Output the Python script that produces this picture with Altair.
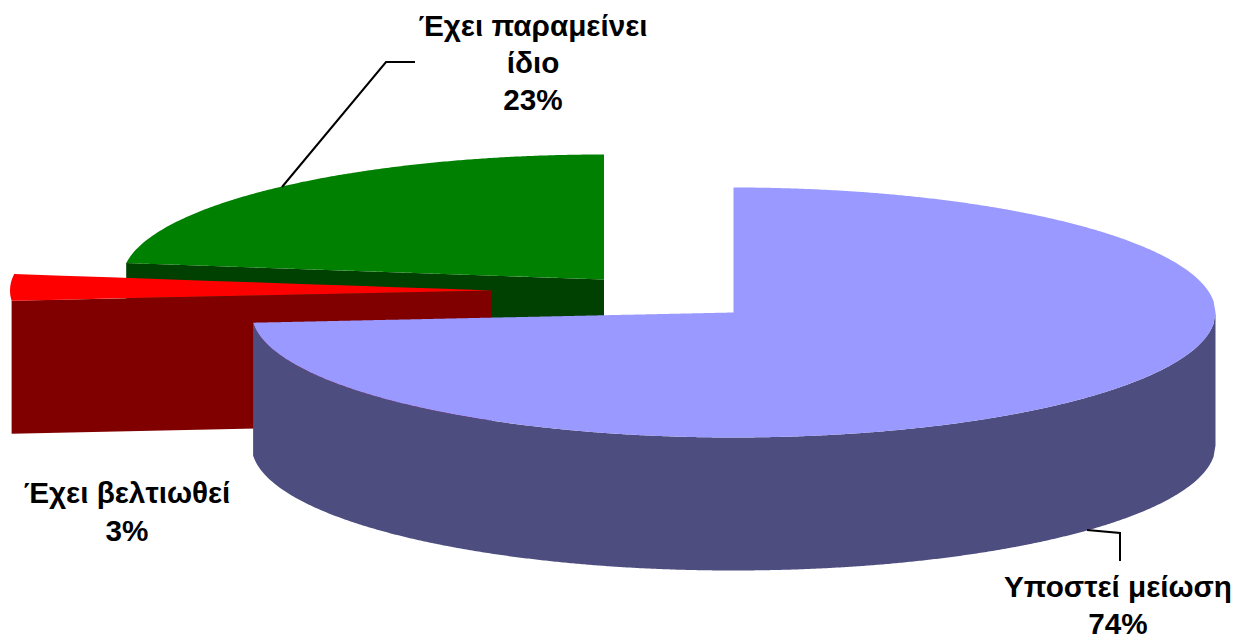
import math
import altair as alt
import pandas as pd

# Data
categories = ["Υποστεί μείωση", "Έχει βελτιωθεί", "Έχει παραμείνει ίδιο"]
shares = [73.7, 3.4, 22.9]
label_lines = [["Υποστεί μείωση", "74%"], ["Έχει βελτιωθεί", "3%"], ["Έχει παραμείνει", "ίδιο", "23%"]]

# Appearance / layout (picture units)
top_colors = ["#9999FF", "#FF0000", "#008000"]
side_colors = ["#4D4D80", "#800000", "#004000"]
apexes = [(733.5, 312.5), (492.0, 290.5), (604.0, 279.5)]
RX, RY, DEPTH = 482.0, 125.0, 133.0
label_pos = [(1118, 588, 37), (127, 494, 38), (533, 27, 37)]
LEFT, TOP, W, H = 8, 8, 1232, 628

x_scale = alt.Scale(domain=[LEFT, LEFT + W], range=[0, W], nice=False, zero=False)
y_scale = alt.Scale(domain=[TOP, TOP + H], range=[0, H], nice=False, zero=False)


def pt(apex, deg):
    a = math.radians(deg)
    return apex[0] + RX * math.sin(a), apex[1] - RY * math.cos(a)


def y_on_line(p, q, x):
    if q[0] == p[0]:
        return p[1]
    return p[1] + (q[1] - p[1]) * (x - p[0]) / (q[0] - p[0])


def ell_upper(apex, x):
    u = max(-1.0, min(1.0, (x - apex[0]) / RX))
    return apex[1] - RY * math.sqrt(1 - u * u)


def ell_lower(apex, x):
    u = max(-1.0, min(1.0, (x - apex[0]) / RX))
    return apex[1] + RY * math.sqrt(1 - u * u)


def linspace(a, b, n):
    return [a + (b - a) * i / n for i in range(n + 1)]


def area_layer(rows, color):
    df = pd.DataFrame(rows, columns=["px", "top", "bottom"])
    return alt.Chart(df).mark_area(color=color, opacity=1, line=False).encode(
        x=alt.X("px:Q", scale=x_scale, axis=None),
        y=alt.Y("top:Q", scale=y_scale, axis=None, stack=None),
        y2=alt.Y2("bottom:Q"),
    )


angles = []
acc = 0.0
for s in shares:
    angles.append((acc * 3.6, (acc + s) * 3.6))
    acc += s

b_ap, r_ap, g_ap = apexes
b_end = pt(b_ap, angles[0][1])
r_a, r_b = pt(r_ap, angles[1][0]), pt(r_ap, angles[1][1])
g_a = pt(g_ap, angles[2][0])

# Green wall and top
green_wall = [(x, y_on_line(g_a, g_ap, x), y_on_line(g_a, g_ap, x) + DEPTH) for x in (g_a[0], g_ap[0])]
green_top = [(x, ell_upper(g_ap, x), y_on_line(g_a, g_ap, x)) for x in linspace(g_a[0], g_ap[0], 200)]

# Red wall and top
red_wall = [(x, y_on_line(r_a, r_ap, x), y_on_line(r_a, r_ap, x) + DEPTH) for x in (r_a[0], r_ap[0])]
xmin = r_ap[0] - RX
red_top = []
for x in linspace(xmin, r_b[0], 30):
    red_top.append((x, ell_upper(r_ap, x), ell_lower(r_ap, x) if x < r_a[0] else y_on_line(r_a, r_ap, x)))
for x in linspace(r_b[0], r_ap[0], 10)[1:]:
    red_top.append((x, y_on_line(r_b, r_ap, x), y_on_line(r_a, r_ap, x)))

# Blue side and top
xs = linspace(b_end[0], b_ap[0] + RX, 500)
blue_side = [(xs[0], b_end[1], b_end[1] + DEPTH)] + [
    (x, ell_lower(b_ap, x), ell_lower(b_ap, x) + DEPTH) for x in xs[1:]
]
# the left part runs a little past the apex so the two parts overlap with no seam
blue_top = [(x, y_on_line(b_end, b_ap, x), ell_lower(b_ap, x)) for x in linspace(b_end[0], b_ap[0] + 2, 250)]
blue_top2 = [(x, ell_upper(b_ap, x), ell_lower(b_ap, x)) for x in linspace(b_ap[0], b_ap[0] + RX, 250)]

layers = [
    area_layer(green_wall, side_colors[2]),
    area_layer(green_top, top_colors[2]),
    area_layer(red_wall, side_colors[1]),
    area_layer(red_top, top_colors[1]),
    area_layer(blue_side, side_colors[0]),
    area_layer(blue_top, top_colors[0]),
    area_layer(blue_top2, top_colors[0]),
]

leaders = pd.DataFrame(
    [
        {"k": "g", "o": 0, "x": 282, "y": 187},
        {"k": "g", "o": 1, "x": 386, "y": 62},
        {"k": "g", "o": 2, "x": 415, "y": 62},
        {"k": "b", "o": 0, "x": 1087, "y": 530},
        {"k": "b", "o": 1, "x": 1120, "y": 533},
        {"k": "b", "o": 2, "x": 1120, "y": 561},
    ]
)
layers.append(
    alt.Chart(leaders)
    .mark_line(color="black", strokeWidth=2)
    .encode(
        x=alt.X("x:Q", scale=x_scale, axis=None),
        y=alt.Y("y:Q", scale=y_scale, axis=None),
        detail="k:N",
        order="o:Q",
    )
)

text_rows = []
for lines, (lx, ly, step) in zip(label_lines, label_pos):
    for i, line in enumerate(lines):
        text_rows.append({"t": line, "x": lx, "y": ly + i * step})
layers.append(
    alt.Chart(pd.DataFrame(text_rows))
    .mark_text(font="Liberation Sans", fontWeight="bold", fontSize=29.7, color="black", align="center", baseline="middle")
    .encode(
        x=alt.X("x:Q", scale=x_scale, axis=None),
        y=alt.Y("y:Q", scale=y_scale, axis=None),
        text="t:N",
    )
)

chart = (
    alt.layer(*layers)
    .properties(width=W, height=H, padding=0, autosize=alt.AutoSizeParams(type="none"))
    .configure_view(stroke=None)
)
chart.save("out.html", embed_options={"renderer": "svg", "actions": False})
